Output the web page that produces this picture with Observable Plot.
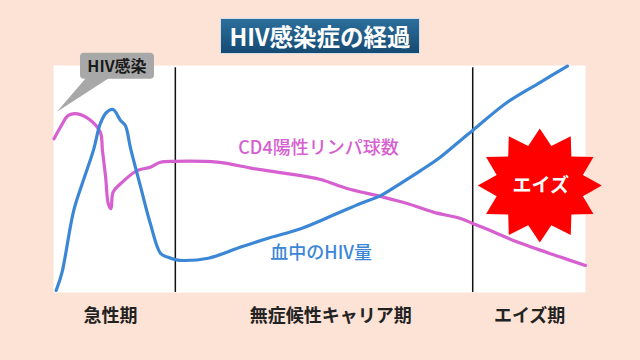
<!DOCTYPE html>
<html><head><meta charset="utf-8">
<script src="https://cdn.jsdelivr.net/npm/d3@7"></script>
<script src="https://cdn.jsdelivr.net/npm/@observablehq/plot@0.6"></script>
<style>
html,body{margin:0;padding:0;background:#fde3d5;}
#wrap{position:relative;width:640px;height:360px;font-family:"Noto Sans CJK JP","Noto Sans",sans-serif;}
#wrap svg{display:block;}
#title{position:absolute;left:221px;top:19px;width:198px;height:34px;background:linear-gradient(#2d6f9c,#154a72);color:#fff;font-weight:700;font-size:23.5px;line-height:34px;text-align:center;box-shadow:0 0 0 1px #d6dde4;}
</style></head><body><div id="wrap"><div id="title">HIV感染症の経過</div></div>
<script>
// Time (arbitrary units 0–100) and level (0–100)
const hivX = [0.5,1.6,3.8,5.6,7.5,8.8,10.0,11.2,12.6,13.5,14.5,16.4,18.2,20.1,21.4,22.9,24.4,29.1,35.2,40.2,46.6,53.3,57.7,61.5,65.2,69.0,72.7,76.5,78.8,85.3,91.5,96.6];
const hivY = [0.9,8.9,36.1,49.3,62.6,74.4,79.4,80.6,75.8,73.6,63.4,46.3,30.4,17.3,15.6,14.5,14.1,15.1,20.0,23.8,28.2,34.8,39.2,42.7,48.0,53.7,59.6,67.0,71.4,83.8,92.6,99.7];
const cd4X = [0.1,1.3,2.8,4.5,7.0,8.8,9.2,9.8,10.3,10.8,11.2,12.6,15.7,18.2,20.1,22.9,30.8,37.6,43.9,50.2,55.2,61.5,66.5,71.4,76.5,78.8,82.1,87.2,95.3,100];
const cd4Y = [67.7,72.8,78.0,78.7,75.8,70.6,62.6,50.8,39.1,36.9,44.2,47.9,53.7,55.2,57.4,57.8,57.4,54.6,52.4,49.8,45.8,42.3,39.2,35.4,32.6,30.4,27.3,22.2,15.6,11.9];
const phaseBounds = [22.9, 78.8];
const phaseNames = ["急性期", "無症候性キャリア期", "エイズ期"];
const phaseLabelX = [10.7, 52.1, 89.5];
const seriesNames = ["血中のHIV量", "CD4陽性リンパ球数"];
const seriesLabelX = [50.3, 49.8];
const seriesLabelY = [17.2, 63.4];
const infectionLabel = "HIV感染";
const infectionPoint = [0.75, 79.4];
const aidsLabel = "エイズ";
const aidsPoint = [91.5, 46.9];

const BLUE = "#3b87d6", PINK = "#d660cf";
const hiv = hivX.map((x, i) => ({x, y: hivY[i]}));
const cd4 = cd4X.map((x, i) => ({x, y: cd4Y[i]}));
const phases = phaseNames.map((name, i) => ({name, x: phaseLabelX[i]}));
const labels = seriesNames.map((name, i) => ({name, x: seriesLabelX[i], y: seriesLabelY[i], color: i === 0 ? BLUE : PINK}));
const FONT = '"Noto Sans CJK JP","Noto Sans",sans-serif';

const chart = Plot.plot({
  width: 640, height: 360,
  marginTop: 65, marginBottom: 68, marginLeft: 53, marginRight: 55,
  x: {domain: [0, 100], axis: null},
  y: {domain: [0, 100], axis: null},
  style: {background: "#fde3d5", fontFamily: FONT},
  marks: [
    Plot.frame({fill: "white", stroke: null}),
    Plot.ruleX(phaseBounds, {y1: 0, y2: 99, stroke: "#111", strokeWidth: 1.5}),
    Plot.line(cd4, {x: "x", y: "y", stroke: PINK, strokeWidth: 3.2, curve: "catmull-rom"}),
    Plot.line(hiv, {x: "x", y: "y", stroke: BLUE, strokeWidth: 3.2, curve: "catmull-rom"}),
    Plot.text(labels, {x: "x", y: "y", text: "name", fill: "color", fontSize: 18, fontWeight: 500}),
    Plot.text(phases, {x: "x", y: 0, dy: 24, text: "name", fill: "#222", fontSize: 18, fontWeight: 700})
  ]
});

const sx = chart.scale("x"), sy = chart.scale("y");
const svg = d3.select(chart);

// Starburst
const cx = sx.apply(aidsPoint[0]), cy = sy.apply(aidsPoint[1]);
const pts = [];
for (let k = 0; k < 24; k++) {
  const a = Math.PI * k / 12;
  const r = k % 2 === 0 ? 1 : 0.72;
  pts.push([cx + Math.sin(a) * 62 * r, cy - Math.cos(a) * 57 * r]);
}
const g = svg.append("g");
g.append("polygon").attr("points", pts.map(p => p.join(",")).join(" ")).attr("fill", "#ff0000");
g.append("text").attr("x", cx + 1).attr("y", cy).attr("text-anchor", "middle").attr("dy", "0.36em")
  .attr("fill", "white").attr("font-size", 19).attr("font-weight", 700).attr("font-family", FONT).text(aidsLabel);

// Callout
const tx = sx.apply(infectionPoint[0]), ty = sy.apply(infectionPoint[1]);
const c = svg.append("g");
c.append("polygon").attr("points", `${tx},${ty} ${tx+30},${ty-35} ${tx+54},${ty-35}`).attr("fill", "#a8a8a8");
c.append("rect").attr("x", tx + 23).attr("y", ty - 59).attr("width", 74).attr("height", 26).attr("rx", 4).attr("fill", "#a8a8a8");
c.append("text").attr("x", tx + 60).attr("y", ty - 46).attr("text-anchor", "middle").attr("dy", "0.36em")
  .attr("fill", "#1a1a1a").attr("font-size", 16).attr("font-weight", 700).attr("font-family", FONT).text(infectionLabel);

document.getElementById("wrap").prepend(chart);
</script>
</body></html>
